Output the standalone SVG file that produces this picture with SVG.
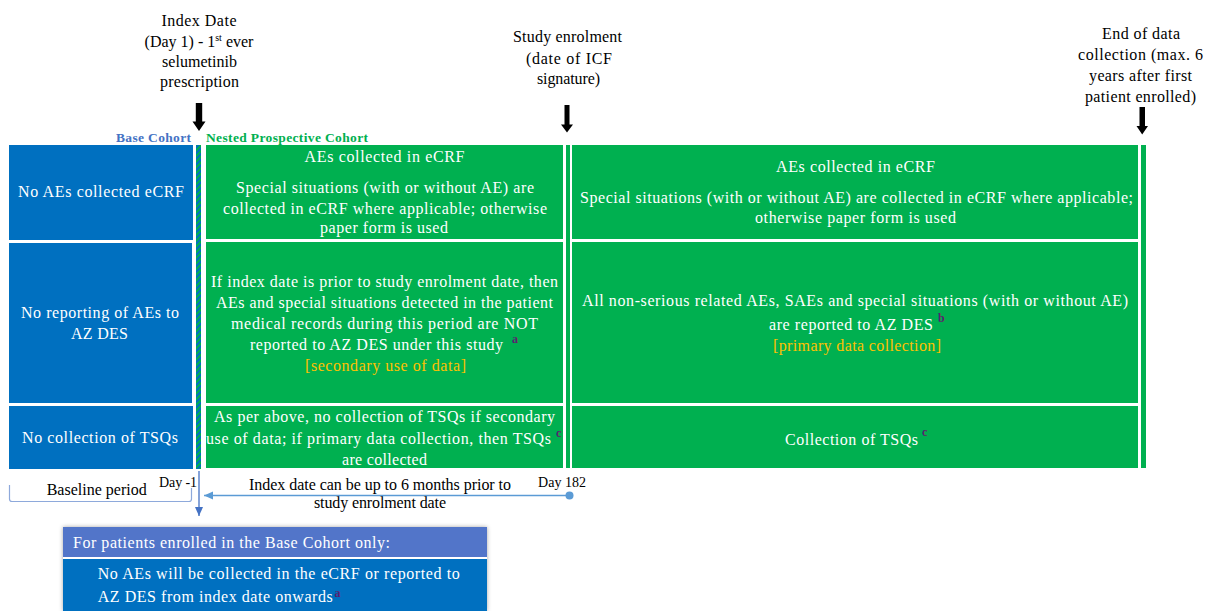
<svg xmlns="http://www.w3.org/2000/svg" width="1208" height="611" viewBox="0 0 1208 611" font-family="'Liberation Serif', 'DejaVu Serif', 'Times New Roman', serif">
<defs>
<style>
text{font-family:'Liberation Serif','DejaVu Serif','Times New Roman',serif}
.t{font-size:16px;fill:#000}
.c{text-anchor:middle}
.e{text-anchor:end}
.w{fill:#fff}
.y{fill:#FFC000}
.sup{font-size:12px;fill:#5B1F6E;font-weight:bold}
.lbl{font-size:13.5px;font-weight:bold}
.day{font-size:14px}
.blue{fill:#0070C0}
.green{fill:#00B050}
.blk{fill:#000}
.tl{fill:none;stroke:#5B9BD5;stroke-width:1.5}
</style>
<pattern id="stripe" patternUnits="userSpaceOnUse" width="4" height="4" patternTransform="rotate(45)">
<rect width="4" height="4" fill="#0070C0"/>
<rect width="2" height="4" fill="#00B050"/>
</pattern>
<marker id="ah" markerWidth="10" markerHeight="10" refX="9" refY="5" orient="auto" markerUnits="userSpaceOnUse">
<path d="M0,1 L9,5 L0,9 Z" fill="#5B9BD5"/>
</marker>
<marker id="ahd" markerWidth="10" markerHeight="10" refX="9" refY="5" orient="auto" markerUnits="userSpaceOnUse">
<path d="M0,1 L9,5 L0,9 Z" fill="#4472C4"/>
</marker>
<filter id="sh" x="-5%" y="-20%" width="110%" height="140%">
<feDropShadow dx="0" dy="0" stdDeviation="2" flood-color="#000" flood-opacity="0.35"/>
</filter>
</defs>
<rect width="1208" height="611" fill="#fff"/>

<g id="label-index-date">
<text class="t c" x="199" y="26" textLength="75">Index Date</text>
<text class="t c" x="199" y="46.5">(Day 1) - 1<tspan font-size="10" dy="-6">st</tspan><tspan dy="6"> ever</tspan></text>
<text class="t c" x="199.5" y="66.5" textLength="75">selumetinib</text>
<text class="t c" x="199.5" y="87" textLength="79">prescription</text>
</g>
<g id="label-study-enrolment">
<text class="t c" x="567.5" y="42" textLength="109">Study enrolment</text>
<text class="t c" x="569" y="63.5" textLength="86">(date of ICF</text>
<text class="t c" x="568.5" y="84" textLength="63">signature)</text>
</g>
<g id="label-end">
<text class="t c" x="1141" y="38.5" textLength="78">End of data</text>
<text class="t c" x="1140.5" y="60" textLength="125">collection (max. 6</text>
<text class="t c" x="1140.5" y="81" textLength="103">years after first</text>
<text class="t c" x="1140.5" y="101.5" textLength="111">patient enrolled)</text>
</g>
<g id="cohort-labels">
<text class="lbl e" x="191" y="142" fill="#4472C4" textLength="75">Base Cohort</text>
<text class="lbl" x="206" y="142" fill="#00B050" textLength="162">Nested Prospective Cohort</text>
</g>

<g id="base-cohort">
<rect class="blue" x="9" y="145" width="184" height="95"/>
<rect class="blue" x="9" y="243" width="183" height="160"/>
<rect class="blue" x="9" y="406" width="184" height="63"/>
<text class="t c w" x="101" y="197" textLength="166">No AEs collected eCRF</text>
<text class="t c w" x="100" y="318" textLength="158">No reporting of AEs to</text>
<text class="t c w" x="99.5" y="339" textLength="57">AZ DES</text>
<text class="t c w" x="100" y="443" textLength="156">No collection of TSQs</text>
</g>

<g id="cohort-divider">
<rect x="196" y="145" width="5" height="324" fill="url(#stripe)"/>
</g>

<g id="nested-period1">
<rect class="green" x="206" y="145" width="357" height="94"/>
<rect class="green" x="206" y="242" width="357" height="161"/>
<rect class="green" x="206" y="406" width="357" height="62"/>
<text class="t c w" x="384.5" y="162" textLength="160">AEs collected in eCRF</text>
<text class="t c w" x="385" y="193" textLength="298">Special situations (with or without AE) are</text>
<text class="t c w" x="385" y="214" textLength="324">collected in eCRF where applicable; otherwise</text>
<text class="t c w" x="384" y="233" textLength="128">paper form is used</text>
<text class="t c w" x="384.5" y="286.5" textLength="347">If index date is prior to study enrolment date, then</text>
<text class="t c w" x="384.5" y="307.5" textLength="337">AEs and special situations detected in the patient</text>
<text class="t c w" x="384.5" y="329" textLength="307">medical records during this period are NOT</text>
<text class="t w" x="250" y="350" textLength="253">reported to AZ DES under this study</text>
<text class="sup" x="512" y="343">a</text>
<text class="t c y" x="385.5" y="371" textLength="161">[secondary use of data]</text>
<text class="t c w" x="384.5" y="421.5" textLength="341">As per above, no collection of TSQs if secondary</text>
<text class="t w" x="206" y="443.5" textLength="345">use of data; if primary data collection, then TSQs</text>
<text class="sup" x="556" y="437">c</text>
<text class="t c w" x="384.5" y="465" textLength="85">are collected</text>
</g>

<g id="enrolment-divider">
<rect class="green" x="566" y="145" width="4" height="323"/>
</g>

<g id="nested-period2">
<rect class="green" x="572" y="145" width="566" height="94"/>
<rect class="green" x="572" y="242" width="566" height="161"/>
<rect class="green" x="572" y="406" width="566" height="62"/>
<text class="t c w" x="855.5" y="172" textLength="159">AEs collected in eCRF</text>
<text class="t c w" x="856.5" y="203" textLength="553">Special situations (with or without AE) are collected in eCRF where applicable;</text>
<text class="t c w" x="855.5" y="223" textLength="201">otherwise paper form is used</text>
<text class="t c w" x="855" y="305.5" textLength="546">All non-serious related AEs, SAEs and special situations (with or without AE)</text>
<text class="t w" x="769" y="329.5" textLength="164">are reported to AZ DES</text>
<text class="sup" x="938" y="322">b</text>
<text class="t y" x="773" y="351" textLength="168">[primary data collection]</text>
<text class="t w" x="785" y="444.5" textLength="133">Collection of TSQs</text>
<text class="sup" x="922" y="436">c</text>
</g>

<g id="end-divider">
<rect class="green" x="1141" y="145" width="5" height="323"/>
</g>

<g id="baseline-period">
<text class="t c" x="96.7" y="495" textLength="100">Baseline period</text>
</g>
<g id="timeline-labels">
<text class="t day" x="159" y="487" textLength="38">Day -1</text>
<text class="t c" x="380" y="489.5" textLength="262">Index date can be up to 6 months prior to</text>
<text class="t c" x="380" y="507.5" textLength="132">study enrolment date</text>
<text class="t day" x="538" y="487" textLength="48">Day 182</text>
</g>

<g id="base-cohort-note">
<rect x="63" y="527" width="424" height="84" fill="#fff" filter="url(#sh)"/>
<rect x="63" y="527" width="424" height="30" fill="#5275C9"/>
<rect x="63" y="559" width="424" height="52" fill="#0070C0"/>
<text class="t w" x="73" y="547.5" textLength="317">For patients enrolled in the Base Cohort only:</text>
<text class="t w" x="97.7" y="579" textLength="362">No AEs will be collected in the eCRF or reported to</text>
<text class="t w" x="97.7" y="601.5" textLength="235">AZ DES from index date onwards</text>
<text class="sup" x="334.5" y="596.5" font-size="10">a</text>
</g>

<g id="connectors">
<path class="blk" d="M195.8,103 H202.2 V121.5 H205.5 L199,131 L192.5,121.5 H195.8 Z"/>
<path class="blk" d="M564.5,105 H569.5 V124.5 H573 L567,132.5 L561,124.5 H564.5 Z"/>
<path class="blk" d="M1139.5,107 H1145 V126 H1148 L1142.2,134.5 L1136.5,126 H1139.5 Z"/>
<path d="M9.5,485 V499 Q9.5,501.5 12,501.5 H189 Q191.5,501.5 191.5,499 V488" fill="none" stroke="#8EA9DB" stroke-width="1.2"/>
<line class="tl" x1="566" y1="495.5" x2="204" y2="495.5" marker-end="url(#ah)"/>
<circle cx="569.5" cy="495.5" r="4" fill="#5B9BD5"/>
<line x1="199" y1="471" x2="199" y2="516" stroke="#4472C4" stroke-width="1.3" marker-end="url(#ahd)"/>
</g>
</svg>
